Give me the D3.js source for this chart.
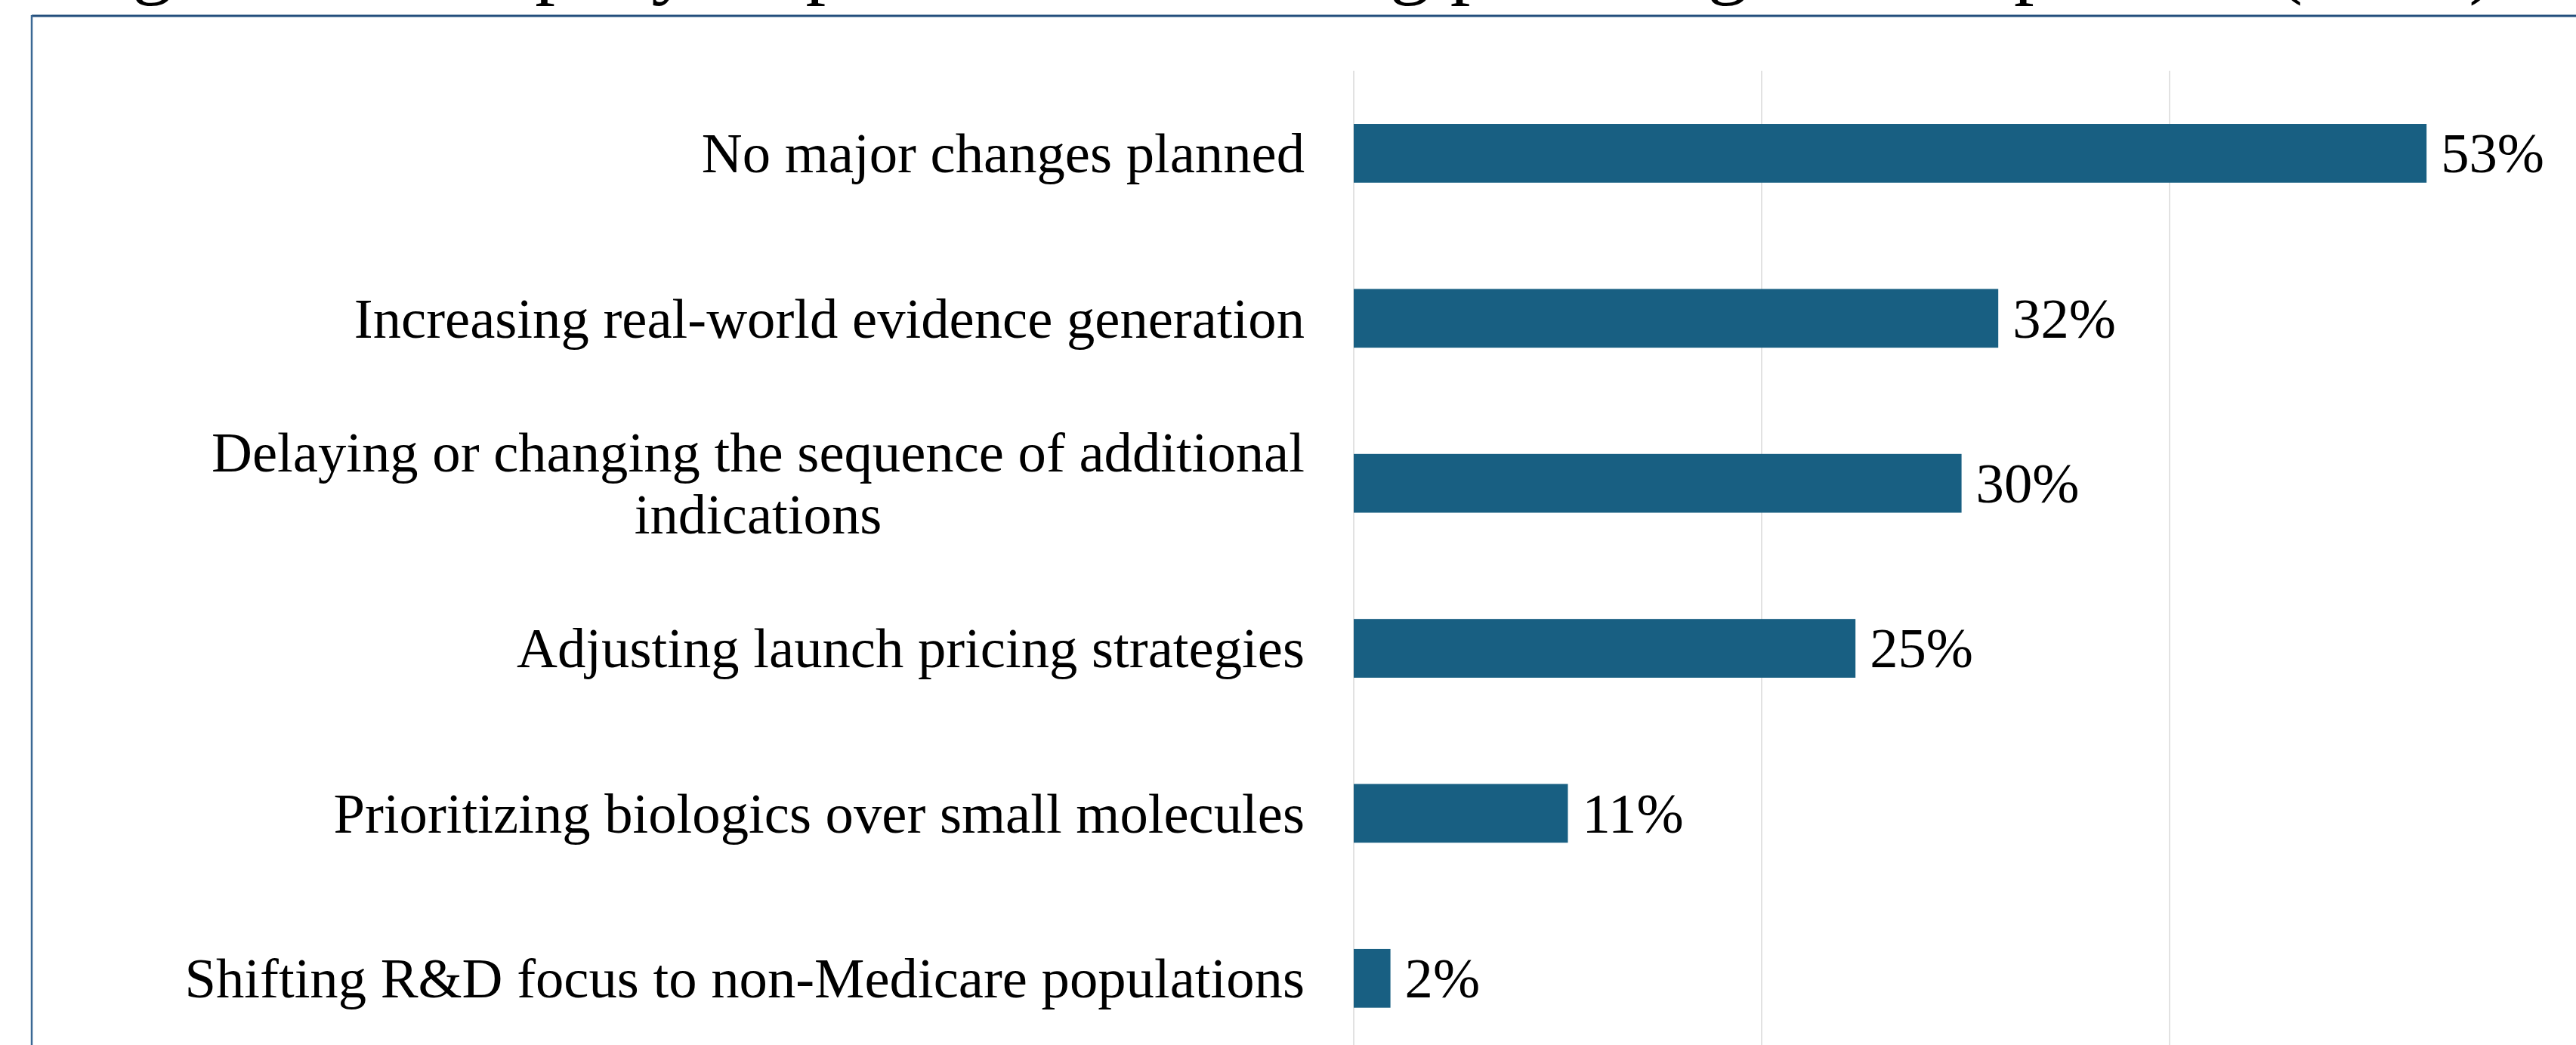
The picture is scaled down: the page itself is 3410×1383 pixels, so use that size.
<!DOCTYPE html>
<html>
<head>
<meta charset="utf-8">
<script src="https://cdn.jsdelivr.net/npm/d3@7"></script>
<style>
  html, body { margin: 0; padding: 0; background: #ffffff; }
  svg { display: block; }
</style>
</head>
<body>
<svg id="chart" width="3410" height="1383"></svg>
<script>
// ---- data ----
const titleText = "Figure 3: Company responses to IRA drug price negotiation process (n=57)";
const categories = [
  "No major changes planned",
  "Increasing real-world evidence generation",
  "Delaying or changing the sequence of additional\nindications",
  "Adjusting launch pricing strategies",
  "Prioritizing biologics over small molecules",
  "Shifting R&D focus to non-Medicare populations"
];
const values = [52.6, 31.6, 29.8, 24.6, 10.5, 1.8];
const valueLabels = ["53%", "32%", "30%", "25%", "11%", "2%"];
const gridTicks = [0, 20, 40, 60];

// ---- layout ----
const W = 3410, H = 1383;
const svg = d3.select("#chart");
const fontFamily = "'Liberation Serif', 'Times New Roman', Times, serif";
const labelSize = 74.67;
const titleSize = 106.67;
const barColor = "#185f82";

const x = d3.scaleLinear().domain([0, 60]).range([1792, 3412]);
const y = d3.scaleBand().domain(categories).range([93.7, 1404])
  .paddingInner(0.644).paddingOuter(0.322);

// frame
svg.append("line").attr("x1", 42).attr("x2", W + 5).attr("y1", 21).attr("y2", 21)
  .attr("stroke", "#234e7c").attr("stroke-width", 3);
svg.append("line").attr("x1", 42).attr("x2", 42).attr("y1", 20).attr("y2", H + 5)
  .attr("stroke", "#3a6894").attr("stroke-width", 2.5);

// title (mostly cut off at top)
svg.append("text").attr("x", 86).attr("y", -15)
  .attr("font-family", fontFamily).attr("font-size", titleSize)
  .attr("fill", "#000").text(titleText);

// gridlines
svg.append("g").selectAll("line").data(gridTicks).join("line")
  .attr("x1", d => x(d)).attr("x2", d => x(d))
  .attr("y1", 93.7).attr("y2", 1404)
  .attr("stroke", "#d9d9d9").attr("stroke-width", 1.5);

// bars
svg.append("g").selectAll("rect").data(categories).join("rect")
  .attr("x", x(0))
  .attr("y", d => y(d))
  .attr("width", (d, i) => x(values[i]) - x(0))
  .attr("height", y.bandwidth())
  .attr("fill", barColor);

// value labels
svg.append("g").selectAll("text").data(categories).join("text")
  .attr("x", (d, i) => x(values[i]) + 19)
  .attr("y", d => y(d) + y.bandwidth() / 2 + labelSize * 0.34)
  .attr("font-family", fontFamily).attr("font-size", labelSize)
  .attr("fill", "#000")
  .text((d, i) => valueLabels[i]);

// category labels
const labelRight = 1727;
const lineGap = labelSize * 1.11;
const lg = svg.append("g");
categories.forEach(c => {
  const lines = c.split("\n");
  const cy = y(c) + y.bandwidth() / 2;
  const t = lg.append("text")
    .attr("font-family", fontFamily).attr("font-size", labelSize)
    .attr("fill", "#000");
  if (lines.length === 1) {
    t.attr("text-anchor", "end").attr("x", labelRight)
      .attr("y", cy + labelSize * 0.34).text(lines[0]);
  } else {
    const spans = lines.map((ln, k) => t.append("tspan")
      .attr("y", cy + labelSize * 0.34 + (k - (lines.length - 1) / 2) * lineGap)
      .text(ln));
    const maxW = d3.max(spans, s => s.node().getComputedTextLength());
    const cx = labelRight - maxW / 2;
    t.attr("text-anchor", "middle");
    spans.forEach(s => s.attr("x", cx));
  }
});
</script>
</body>
</html>
